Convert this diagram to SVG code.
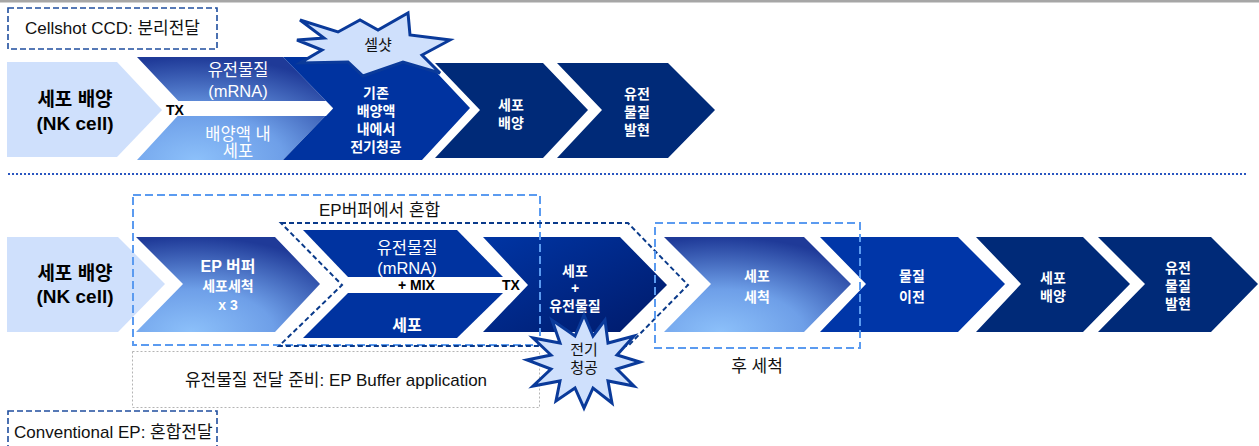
<svg xmlns="http://www.w3.org/2000/svg" width="1259" height="446" viewBox="0 0 1259 446">
<defs>
<style>
text{font-family:"Liberation Sans","Noto Sans CJK KR",sans-serif}
.cap{font-size:17px;fill:#111}
.big{font-size:19px;font-weight:bold;fill:#000;text-anchor:middle}
.w{font-size:14px;font-weight:bold;fill:#fff;text-anchor:middle}
.wm{font-size:16px;font-weight:bold;fill:#fff;text-anchor:middle}
.wn{font-size:16.5px;fill:#fff;text-anchor:middle}
.tx{font-size:14px;font-weight:bold;fill:#000}
.light{fill:#cfe0fc}
.blue{fill:#0033a0}
.navy{fill:#002a78}
.dkdash{fill:none;stroke:#1f4e9e;stroke-width:1.6;stroke-dasharray:6 3}
.mixdash{fill:none;stroke:#0a3a8a;stroke-width:2;stroke-dasharray:5 3}
.ltdash{fill:none;stroke:#5b9bf0;stroke-width:2;stroke-dasharray:8 4}
.grdash{fill:none;stroke:#b4b4b4;stroke-width:1;stroke-dasharray:2 2}
.burst{fill:#cfe0fc;stroke:#0a3a9a;stroke-width:3;stroke-linejoin:miter}
.bt{font-size:15px;fill:#111;text-anchor:middle}
</style>
<radialGradient id="gsoft" cx="0.3" cy="1" r="1" fx="0.3" fy="1">
<stop offset="0" stop-color="#8cc0fa"/>
<stop offset="0.45" stop-color="#6e9fe8"/>
<stop offset="1" stop-color="#1f3a98"/>
</radialGradient>
<linearGradient id="gdeep" x1="0" y1="0" x2="1" y2="1">
<stop offset="0" stop-color="#0035a4"/>
<stop offset="1" stop-color="#001a6a"/>
</linearGradient>
</defs>
<rect width="1259" height="446" fill="#fff"/>
<rect x="0" y="0" width="1259" height="2.5" fill="#a6a6a6"/>

<g id="label-cellshot">
<rect x="8" y="8" width="209" height="41" class="dkdash"/>
<text x="25" y="34" class="cap">Cellshot CCD: 분리전달</text>
</g>

<!-- Top row -->
<g id="t-culture">
<polygon class="light" points="7,62 117,62 162,110 117,157 7,157"/>
<text x="75" y="106" class="big">세포 배양</text>
<text x="75" y="130" class="big">(NK cell)</text>
</g>
<g id="t-mrna-cell">
<polygon fill="url(#gsoft)" points="137,57 283,57 333,108 283,160 137,160 185,108"/>
</g>
<g id="t-ep">
<polygon class="blue" points="283,57 422,57 470,108 422,160 283,160 333,108"/>
</g>
<g id="t-band">
<polygon fill="#fff" points="165,101 326,101 333,108.5 326,116 165,116"/>
<text x="238" y="76" class="wn">유전물질</text>
<text x="238" y="97" class="wn">(mRNA)</text>
<text x="238" y="140" class="wn">배양액 내</text>
<text x="238" y="157" class="wn">세포</text>
<text x="166" y="115" class="tx">TX</text>
<text x="376" y="98" class="w">기존</text>
<text x="376" y="116" class="w">배양액</text>
<text x="376" y="134" class="w">내에서</text>
<text x="376" y="152" class="w">전기청공</text>
</g>
<g id="t-culture2">
<polygon class="navy" points="435,63 543,63 588,110 543,158 435,158 480,110"/>
<text x="511" y="110" class="w">세포</text>
<text x="511" y="128" class="w">배양</text>
</g>
<g id="t-expr">
<polygon class="navy" points="557,63 668,63 715,110 668,158 557,158 602,110"/>
<text x="637" y="99" class="w">유전</text>
<text x="637" y="117" class="w">물질</text>
<text x="637" y="135" class="w">발현</text>
</g>
<g id="burst-cellshot">
<polygon class="burst" points="300,20 338,32 360,20 378,30 408,13 410,35 450,40 422,55 440,73 403,62 363,76 348,62 300,63 322,50 297,40 324,38"/>
<text x="378" y="50" class="bt">셀샷</text>
</g>

<line x1="8" y1="174" x2="1247" y2="174" stroke="#2a56c0" stroke-width="2" stroke-dasharray="2 2"/>

<!-- Bottom row -->
<g id="b-culture">
<polygon class="light" points="7,237 118,237 165,284 118,332 7,332"/>
<text x="75" y="280" class="big">세포 배양</text>
<text x="75" y="303" class="big">(NK cell)</text>
</g>
<g id="b-wash">
<polygon fill="url(#gsoft)" points="136,237 275,237 320,284 275,332 136,332 183,284"/>
<text x="228" y="272" class="wm">EP 버퍼</text>
<text x="228" y="291" class="w">세포세척</text>
<text x="228" y="310" class="w">x 3</text>
</g>
<g id="b-mix">
<polygon class="blue" points="303,230 457,230 503,277 348,277"/>
<polygon class="blue" points="348,293 503,293 457,338 303,338"/>
<text x="407" y="254" class="wn">유전물질</text>
<text x="407" y="274" class="wn">(mRNA)</text>
<text x="407" y="331" class="wm">세포</text>
<text x="398" y="290" class="tx">+ MIX</text>
<text x="502" y="290" class="tx">TX</text>
</g>
<g id="b-cellgene">
<polygon fill="url(#gdeep)" points="483,237 620,237 667,285 620,332 483,332 528,285"/>
<text x="575" y="276" class="w">세포</text>
<text x="575" y="293" class="w">+</text>
<text x="575" y="311" class="w">유전물질</text>
</g>
<g id="b-postwash">
<polygon fill="url(#gsoft)" points="664,237 804,237 851,284 804,332 664,332 711,284"/>
<text x="757" y="281" class="w">세포</text>
<text x="757" y="302" class="w">세척</text>
</g>
<g id="b-transfer">
<polygon fill="#0036a8" points="820,237 958,237 1005,284 958,332 820,332 866,284"/>
<text x="912" y="281" class="w">물질</text>
<text x="912" y="302" class="w">이전</text>
</g>
<g id="b-culture2">
<polygon class="navy" points="976,237 1083,237 1130,284 1083,332 976,332 1021,284"/>
<text x="1053" y="283" class="w">세포</text>
<text x="1053" y="301" class="w">배양</text>
</g>
<g id="b-expr">
<polygon class="navy" points="1098,237 1211,237 1258,284 1211,332 1098,332 1145,284"/>
<text x="1178" y="273" class="w">유전</text>
<text x="1178" y="291" class="w">물질</text>
<text x="1178" y="309" class="w">발현</text>
</g>

<g id="frames">
<rect x="133" y="195" width="407" height="150" class="ltdash"/>
<text x="319" y="216" class="cap">EP버퍼에서 혼합</text>
<polygon class="mixdash" points="281,223 628,223 688,285 628,346 279,346 342,285"/>
<rect x="655" y="223" width="205" height="125" class="ltdash"/>
<text x="757" y="372" class="cap" text-anchor="middle">후 세척</text>
<rect x="132.5" y="351.5" width="407" height="56" class="grdash"/>
<text x="336" y="386" class="cap" text-anchor="middle">유전물질 전달 준비: EP Buffer application</text>
</g>

<g id="burst-ep">
<polygon class="burst" points="640,362 617,369 634,386 608,381 612,403 593,388 584,408 575,388 556,401 560,381 533,386 551,369 527,360 551,355 533,338 560,343 552,320 575,336 584,315 593,336 605,320 608,343 634,336 617,355"/>
<text x="584" y="355" class="bt">전기</text>
<text x="584" y="373" class="bt">청공</text>
</g>

<g id="label-conventional">
<rect x="8" y="411" width="209" height="45" class="dkdash"/>
<text x="14" y="438" class="cap">Conventional EP: 혼합전달</text>
</g>
</svg>
